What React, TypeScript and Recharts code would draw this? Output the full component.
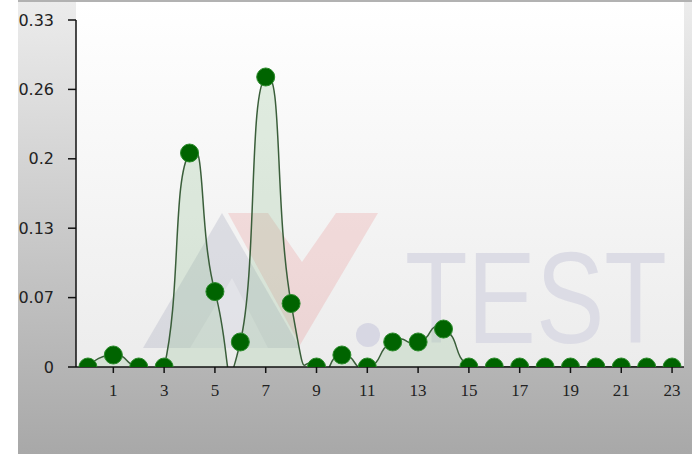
import { ComposedChart, Area, XAxis, YAxis } from 'recharts';

const HOURS = [0, 1, 2, 3, 4, 5, 6, 7, 8, 9, 10, 11, 12, 13, 14, 15, 16, 17, 18, 19, 20, 21, 22, 23];
const VALUES = [
  0, 0.0114, 0, 0, 0.2035, 0.0717, 0.0238, 0.2758, 0.0604, 0, 0.0114, 0,
  0.0238, 0.0238, 0.0361, 0, 0, 0, 0, 0, 0, 0, 0, 0,
];
const X_TICKS = [1, 3, 5, 7, 9, 11, 13, 15, 17, 19, 21, 23];
const Y_TICKS = [0, 0.066, 0.132, 0.198, 0.264, 0.33];

const data = HOURS.map((h, i) => ({ hour: h, value: VALUES[i] }));

// cardinal spline, looser than catmull-rom so it overshoots like the original
function cardinal(context: any) {
  const k = 1 / 3;
  let x0: number, x1: number, x2: number, y0: number, y1: number, y2: number;
  let pt = 0;
  let line = NaN;
  const seg = (x: number, y: number) => {
    context.bezierCurveTo(
      x1 + k * (x2 - x0), y1 + k * (y2 - y0),
      x2 + k * (x1 - x), y2 + k * (y1 - y),
      x2, y2,
    );
  };
  return {
    areaStart() { line = 0; },
    areaEnd() { line = NaN; },
    lineStart() { x0 = x1 = x2 = y0 = y1 = y2 = NaN; pt = 0; },
    lineEnd() {
      if (pt === 2) context.lineTo(x2, y2);
      else if (pt === 3) seg(x1, y1);
      if (line || (line !== 0 && pt === 1)) context.closePath();
      line = 1 - line;
    },
    point(x: number, y: number) {
      x = +x; y = +y;
      if (pt === 0) {
        pt = 1;
        if (line) context.lineTo(x, y); else context.moveTo(x, y);
      } else if (pt === 1) {
        pt = 2; x1 = x; y1 = y;
      } else {
        pt = 3;
        seg(x, y);
      }
      x0 = x1; x1 = x2; x2 = x;
      y0 = y1; y1 = y2; y2 = y;
    },
  };
}

const fmt = (v: number) => String(+v.toFixed(2));

export default function App() {
  return (
    <div style={{ position: 'fixed', left: 0, top: 0, width: 692, height: 454, background: '#fff', overflow: 'hidden' }}>
      <div style={{
        position: 'absolute', left: 18, top: 0, width: 674, height: 454,
        borderTop: '2px solid #b2b2b2', boxSizing: 'border-box',
        background: 'linear-gradient(to bottom, #ececec, #a8a8a8)',
      }} />
      <div style={{
        position: 'absolute', left: 76, top: 2, width: 608, height: 365,
        background: 'linear-gradient(to bottom, #ffffff, #ececec)',
      }} />
      <svg width={692} height={454} style={{ position: 'absolute', left: 0, top: 0 }}>
        <polygon points="143,348 222,213 300,348" fill="#a4a8bc" fillOpacity={0.3} />
        <polygon points="190,348 232,278 268,348" fill="#ffffff" fillOpacity={0.25} />
        <polygon points="228,213 268,213 302,262 336,213 378,213 300,345" fill="#e88080" fillOpacity={0.22} />
        <circle cx={368} cy={335} r={12} fill="#c8c8dc" fillOpacity={0.6} />
        <text x={405} y={343} textLength={262} lengthAdjust="spacingAndGlyphs"
          fontFamily="Liberation Sans" fontSize={130} fill="#dcdce5">TEST</text>
      </svg>
      <div style={{ position: 'absolute', left: 0, top: 0 }}>
        <ComposedChart width={692} height={454} data={data} margin={{ top: 20, right: 8, bottom: 57, left: 0 }}>
          <XAxis
            dataKey="hour" type="number" domain={[-0.47, 23.47]} ticks={X_TICKS} allowDataOverflow
            axisLine={{ stroke: '#111', strokeWidth: 1.5 }} tickLine={{ stroke: '#111', strokeWidth: 1.5 }}
            tickSize={6} tickMargin={11} height={30}
            tick={{ fill: '#222', fontSize: 17, fontFamily: 'Liberation Serif' }}
          />
          <YAxis
            type="number" domain={[0, 0.33]} ticks={Y_TICKS} allowDataOverflow width={76}
            tickFormatter={fmt}
            axisLine={{ stroke: '#111', strokeWidth: 1.5 }} tickLine={{ stroke: '#111', strokeWidth: 1.5 }}
            tickSize={8} tickMargin={14}
            tick={{ fill: '#222', fontSize: 16, fontFamily: 'DejaVu Sans' }}
          />
          <Area
            dataKey="value" type={cardinal as any} isAnimationActive={false}
            stroke="#3a5e3a" strokeWidth={1.5} fill="#8fc08f" fillOpacity={0.25}
            dot={{ r: 9, fill: '#006400', stroke: '#2a8a2a', strokeWidth: 1, fillOpacity: 1 }}
            activeDot={false}
          />
        </ComposedChart>
      </div>
    </div>
  );
}
